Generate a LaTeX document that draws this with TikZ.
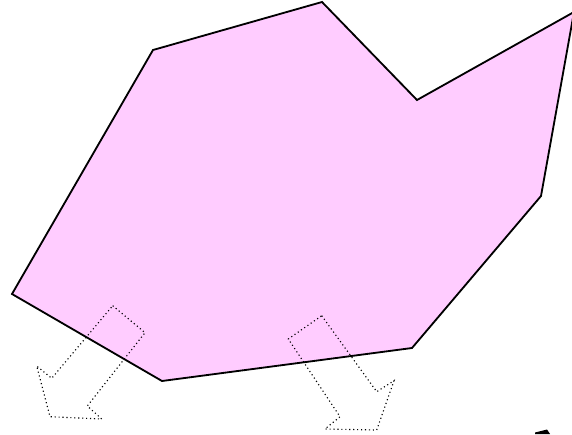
\documentclass[tikz,border=0pt]{standalone}
\usepackage{tikz}
\usetikzlibrary{arrows.meta,positioning,calc}
\definecolor{blobpink}{RGB}{255,204,255}
\tikzset{every picture/.style={line width=0.75pt}}

\begin{document}
\begin{tikzpicture}[x=0.025cm,y=-0.025cm]
    \useasboundingbox (0,0) rectangle (572,434);
    \clip (0,0) rectangle (572,434);

    % Pink polygon region
    \filldraw[fill=blobpink,draw=black,line width=1.3pt,line join=miter]
        (12,294) -- (153,50) -- (322,2) -- (417,100) -- (574,12)
        -- (541,196) -- (412,348) -- (162,381) -- cycle;

    % Dotted block arrows (normals)
    \draw[dotted,line width=0.8pt]
        (112.7,305.7) -- (145,332.7) -- (87.3,406) -- (101.7,419)
        -- (50,416.7) -- (36.7,366) -- (51.7,378.3) -- cycle;
    \draw[dotted,line width=0.8pt]
        (321.7,315.7) -- (376.7,391.7) -- (394,380.7) -- (376.7,430)
        -- (325,429) -- (340,416.7) -- (288.3,339) -- cycle;

    % Clipped fragment, bottom right
    \fill[black] (535,434) -- (535,432.5) -- (547,429.5) -- (550,434) -- cycle;
\end{tikzpicture}
\end{document}
